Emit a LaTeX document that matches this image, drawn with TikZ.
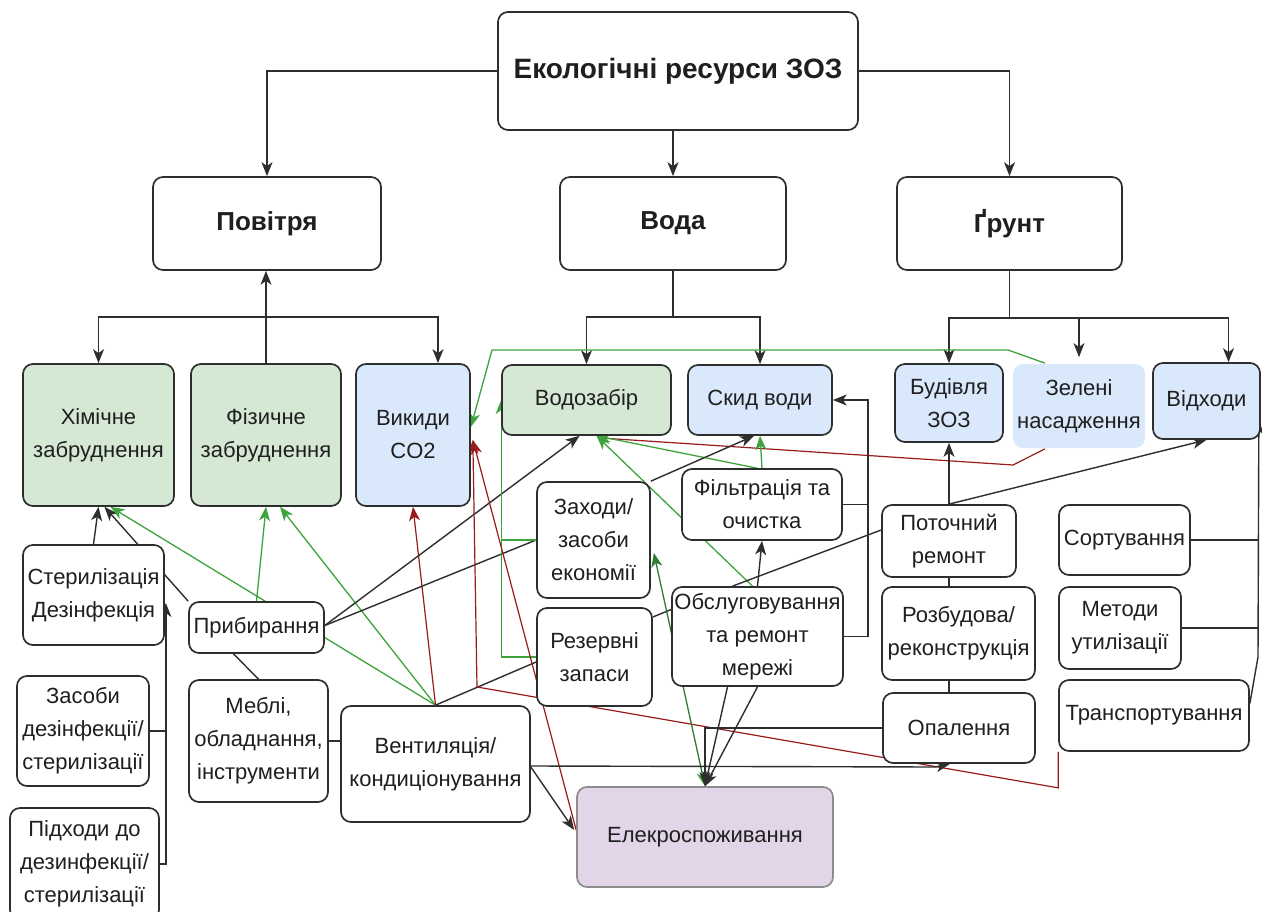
\documentclass[tikz,border=0pt]{standalone}
\usepackage{fontspec}
\setmainfont{Liberation Sans}
\usetikzlibrary{arrows.meta,calc}
\pgfdeclarelayer{back}\pgfdeclarelayer{edges}
\pgfsetlayers{back,edges,main}
\definecolor{gfill}{HTML}{D5E8D4}
\definecolor{bfill}{HTML}{DAE8FC}
\definecolor{pfill}{HTML}{E1D5E7}
\definecolor{lgreen}{HTML}{3DA33D}
\definecolor{dgreen}{HTML}{2E7D32}
\definecolor{dred}{HTML}{9B1B1B}
\definecolor{dline}{HTML}{2E2E2E}
\newcommand\bx[7]{\node[#2,minimum width={#5-#3},minimum height={#6-#4}] (#1) at ({(#3+#5)/2},{(#4+#6)/2}) {#7};}
\tikzset{
  box/.style={draw=dline, line width=1.7pt, rounded corners=10pt, fill=white, align=center, inner sep=0pt, text=black!88, font=\fontsize{22}{33}\selectfont},
  hbox/.style={box, font=\bfseries\fontsize{26}{30}\selectfont},
  tip/.style={-{Stealth[length=14pt,width=11pt,inset=4pt]}},
  ln/.style={draw=dline, line width=1.4pt},
  ar/.style={ln, tip},
  gl/.style={draw=lgreen, line width=1.3pt},
  gr/.style={gl, tip},
  rd/.style={draw=dred, line width=1.2pt, tip},
}
\begin{document}
\begin{tikzpicture}[x=1pt,y=-1pt]
\useasboundingbox (0,0) rectangle (1262,912);
\begin{pgfonlayer}{back}\fill[white] (0,0) rectangle (1262,912);\end{pgfonlayer}
% nodes
\bx{ntop}{hbox,font=\bfseries\fontsize{28}{32}\selectfont}{498}{12}{858}{130}{Екологічні ресурси ЗОЗ}
\bx{npov}{hbox}{153}{177}{381}{270}{Повітря}
\bx{nvoda}{hbox}{560}{177}{786}{270}{Вода}
\bx{ngrunt}{hbox}{897}{177}{1122}{270}{Ґрунт}
\bx{nkhim}{box,fill=gfill}{23}{364}{174}{506}{Хімічне\\забруднення}
\bx{nfiz}{box,fill=gfill}{191}{364}{341}{506}{Фізичне\\забруднення}
\bx{nvyk}{box,fill=bfill}{356}{364}{470}{506}{Викиди\\CO2}
\bx{nvodoz}{box,fill=gfill}{502}{365}{671}{435}{Водозабір}
\bx{nskyd}{box,fill=bfill}{688}{365}{832}{435}{Скид води}
\bx{nbud}{box,fill=bfill}{895}{364}{1003}{442}{Будівля\\ЗОЗ}
\bx{nzel}{box,fill=bfill,draw=none}{1013}{364}{1145}{448}{Зелені\\насадження}
\bx{nvidk}{box,fill=bfill}{1153}{363}{1260}{439}{Відходи}
\bx{nster}{box}{23}{545}{164}{645}{Стерилізація\\Дезінфекція}
\bx{nprib}{box}{189}{602}{324}{653}{Прибирання}
\bx{nzas}{box}{17}{676}{149}{786}{Засоби\\дезінфекції/\\стерилізації}
\bx{npid}{box}{10}{808}{159}{920}{Підходи до\\дезинфекції/\\стерилізації}
\bx{nmeb}{box}{189}{680}{328}{802}{Меблі,\\обладнання,\\інструменти}
\bx{nvent}{box}{341}{706}{530}{822}{Вентиляція/\\кондиціонування}
\bx{nzakh}{box}{537}{482}{650}{598}{Заходи/\\засоби\\економії}
\bx{nrez}{box}{537}{608}{652}{706}{Резервні\\запаси}
\bx{nfilt}{box}{682}{469}{842}{540}{Фільтрація та\\очистка}
\bx{nobsl}{box}{672}{587}{843}{686}{Обслуговування\\та ремонт\\мережі}
\bx{npot}{box}{882}{505}{1016}{577}{Поточний\\ремонт}
\bx{nrozb}{box}{882}{587}{1035}{680}{Розбудова/\\реконструкція}
\bx{nopal}{box}{883}{693}{1035}{763}{Опалення}
\bx{nsort}{box}{1059}{505}{1190}{575}{Сортування}
\bx{nmet}{box}{1059}{587}{1181}{669}{Методи\\утилізації}
\bx{ntransp}{box}{1059}{680}{1249}{751}{Транспортування}
\bx{nelek}{box,fill=pfill,draw=black!45}{577}{787}{833}{887}{Елекроспоживання}
% connectors
\begin{pgfonlayer}{edges}
\draw[ar] (ntop.west) -| (npov.north);
\draw[ar] (ntop.south -| nvoda.north) -- (nvoda.north);
\draw[ar] (ntop.east) -| (ngrunt.north);
\coordinate (pj) at (266,317);
\draw[ar] (nfiz.north -| pj) -- (npov.south -| pj);
\draw[ar] (pj) -| (nkhim.north);
\draw[ar] (pj) -| ($(nvyk.north)+(25,0)$);
\coordinate (vj) at (673,317);
\draw[ln] (nvoda.south) -- (vj);
\draw[ar] (vj) -| (nvodoz.north);
\draw[ar] (vj) -| (nskyd.north);
\coordinate (gj) at (1009.5,318);
\draw[ln] (ngrunt.south) -- (gj);
\draw[ar] (gj) -| (nbud.north);
\draw[ar] (gj) -| ($(nzel.north)+(0,-6)$);
\draw[ar] (gj) -| ($(nvidk.north)+(22,0)$);
% left cluster
\draw[ar] (nster.north) -- (nkhim.south);
\draw[ar] (nprib.north west) -- ($(nkhim.south)+(6,0)$);
\draw[ln] (nzas.east) -- ($(nzas.east -| nster.east)+(1,0)$);
\draw[ar] (npid.east) -| ($(nster.east)+(1,8)$);
\draw[ln] ($(nprib.south)+(-23,0)$) -- (nmeb.north);
\draw[ln] (nmeb.east) -- (nmeb.east -| nvent.west);
\draw[gr] (nprib.north) -- (nfiz.south);
\draw[gr] (nvent.north) -- ($(nkhim.south)+(12,0)$);
\draw[gr] (nvent.north) -- ($(nfiz.south)+(14,0)$);
\draw[rd] (nvent.north) -- (nvyk.south);
\draw[ln] (nvent.north) -- ($(nrez.west)+(0,5)$);
\draw[ln] ($(nprib.east)+(0,-2)$) -- (nzakh.west);
\draw[ar] ($(nprib.east)+(0,-2)$) -- ($(nvodoz.south)+(-7,0)$);
\draw[gr] (nrez.west) -| (nvodoz.west);
\draw[gl] (nzakh.west) -- (nzakh.west -| nvodoz.west);
\coordinate (rk) at (477,687);
\draw[rd] (ntransp.south west) -- ++(0,36) -- (rk) -- ($(nvyk.east)+(2,5)$);
\draw[rd] ($(nelek.west)+(0,-7)$) -- ($(nvyk.east)+(2,5)$);
\draw[ar] ($(nvent.east)+(0,3)$) -- ($(nelek.west)+(-2,-7)$);
\draw[gr] ($(nzel.north)+(-34,0)$) -- (1008,350) -- (492,350) -- ($(nvyk.east)+(0,-8)$);
\draw[draw=dred, line width=1.2pt] ($(nzel.south)+(-34,0)$) -- (1013,465) -- ($(nvodoz.south)+(12,2)$);
% water cluster
\draw[gr] (nfilt.north) -- (nskyd.south);
\draw[gr] ($(nfilt.north)+(-5,0)$) -- ($(nvodoz.south)+(10,0)$);
\draw[gr] ($(nobsl.north)+(-5,0)$) -- ($(nvodoz.south)+(10,0)$);
\draw[ar] (nzakh.north east) -- ($(nskyd.south)+(-6,0)$);
\draw[ar] (nobsl.north) -- (nfilt.south);
\coordinate (fk) at (868,400);
\draw[ar] (nfilt.east) -| (fk) -- (nskyd.east);
\draw[ln] (nobsl.east) -| (fk);
\draw[ln] ($(nrez.east)+(0,-40)$) -- ($(nobsl.west)+(0,-27)$);
\draw[ln] ($(npot.west)+(0,-11)$) -- ($(nobsl.north)+(-25,0)$);
\draw[draw=dgreen, line width=1.3pt, {Stealth[length=14pt,width=11pt,inset=4pt]}-{Stealth[length=14pt,width=11pt,inset=4pt,color=lgreen]}] ($(nzakh.east)+(3,13)$) -- (nelek.north);
\draw[ar] ($(nobsl.south)+(-30,0)$) -- (nelek.north);
\draw[ar] (nobsl.south) -- (nelek.north);
\draw[ar] (nopal.west) -| (nelek.north);
\draw[ar] ($(nvent.east)+(0,2)$) -- (935,767) -- ($(nopal.south)+(-9,0)$);
% soil cluster
\draw[ar] (npot.north) -- (npot.north |- nbud.south);
\draw[ar] (npot.north) -- (nvidk.south);
\draw[ln] (npot.south) -- (npot.south |- nrozb.north);
\draw[ln] (nrozb.south -| npot.south) -- (nopal.north -| npot.south);
\coordinate (vk) at (1258,657);
\draw[ar] ($(ntransp.east)+(0,-12)$) -- (vk) -- ($(nvidk.south east)+(-2,-19)$);
\draw[ln] (nsort.east) -- (nsort.east -| vk);
\draw[ln] (nmet.east) -- (nmet.east -| vk);
\end{pgfonlayer}
\end{tikzpicture}
\end{document}
